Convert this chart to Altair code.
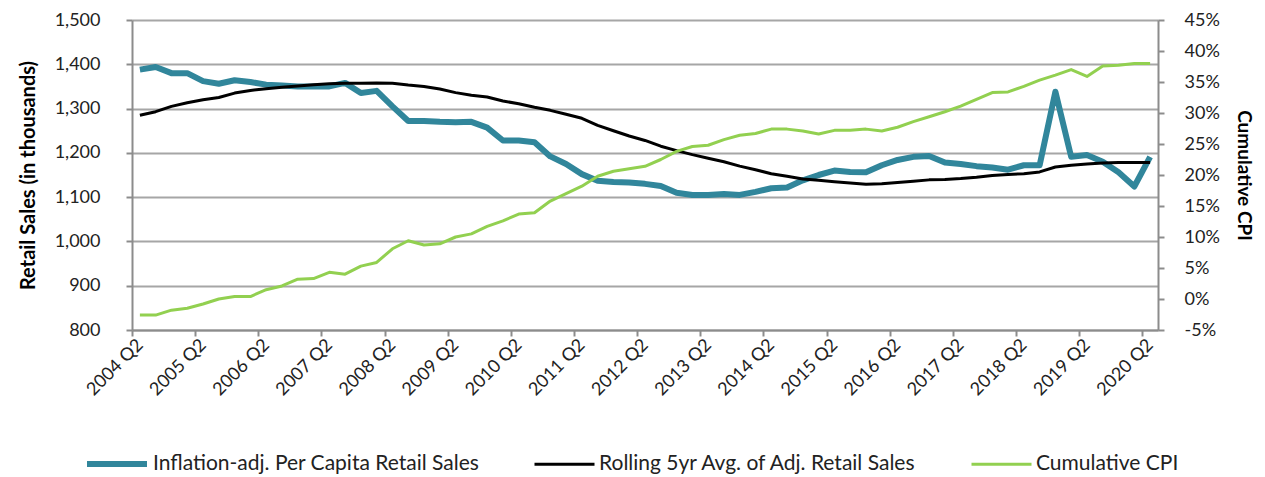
import json
import altair as alt
import pandas as pd

# ---------------- data ----------------
quarters = [f"{2004 + (i + 1) // 4} Q{(i + 1) % 4 + 1}" for i in range(65)]  # 2004 Q2 .. 2020 Q2

sales = [1388, 1394, 1380, 1380, 1362, 1356, 1364, 1360, 1354, 1352,
         1350, 1350, 1350, 1358, 1335, 1340, 1305, 1272, 1272, 1270,
         1269, 1270, 1257, 1228, 1228, 1224, 1192, 1175, 1152, 1137,
         1134, 1133, 1130, 1125, 1110, 1105, 1105, 1107, 1105, 1112,
         1120, 1122, 1138, 1150, 1160, 1157, 1156, 1172, 1184, 1191,
         1193, 1178, 1175, 1170, 1167, 1162, 1172, 1172, 1338, 1191,
         1195, 1180, 1156, 1124, 1191]

rolling = [1285, 1293, 1305, 1313, 1320, 1325, 1335, 1341, 1345, 1348,
           1351, 1354, 1356, 1357, 1357, 1358, 1357, 1353, 1350, 1344,
           1336, 1330, 1326, 1317, 1311, 1303, 1296, 1287, 1278, 1262,
           1250, 1238, 1228, 1215, 1205, 1196, 1188, 1180, 1170, 1162,
           1153, 1147, 1141, 1138, 1135, 1132, 1129, 1130, 1133, 1136,
           1139, 1140, 1142, 1145, 1149, 1151, 1153, 1157, 1168, 1172,
           1175, 1177, 1178, 1178, 1178]

cpi = [-2.6, -2.6, -1.8, -1.5, -0.8, 0.0, 0.4, 0.4, 1.5, 2.1,
       3.2, 3.3, 4.3, 4.0, 5.3, 5.9, 8.1, 9.4, 8.7, 8.9,
       10.0, 10.5, 11.7, 12.6, 13.7, 13.9, 15.8, 17.0, 18.2, 19.8,
       20.6, 21.0, 21.4, 22.5, 23.8, 24.6, 24.8, 25.7, 26.4, 26.7,
       27.4, 27.4, 27.1, 26.6, 27.2, 27.2, 27.4, 27.1, 27.7, 28.6,
       29.4, 30.2, 31.1, 32.2, 33.3, 33.4, 34.3, 35.3, 36.1, 37.0,
       35.9, 37.6, 37.7, 38.0, 38.0]

series_names = ["Inflation-adj. Per Capita Retail Sales",
                "Rolling 5yr Avg. of Adj. Retail Sales",
                "Cumulative CPI"]
series_colors = ["#31869B", "#000000", "#92D050"]
series_widths = [6, 3, 3]

tick_labels = [f"{y} Q2" for y in range(2004, 2021)]
left_ticks = [800, 900, 1000, 1100, 1200, 1300, 1400, 1500]
right_ticks = [-5, 0, 5, 10, 15, 20, 25, 30, 35, 40, 45]

# ---------------- frames ----------------
df_sales = pd.DataFrame({"idx": range(65), "quarter": quarters, "value": sales,
                         "series": series_names[0]})
df_roll = pd.DataFrame({"idx": range(65), "quarter": quarters, "value": rolling,
                        "series": series_names[1]})
df_cpi = pd.DataFrame({"idx": range(65), "quarter": quarters, "cpi": cpi,
                       "series": series_names[2]})

FONT = "Lato"
TXT = "#222222"
AX = "#8c8c8c"
GRID = "#a6a6a6"

boundaries = [-0.5 + 4 * k for k in range(17)]
label_expr = json.dumps(tick_labels) + "[round((datum.value + 0.5) / 4)]"

x_enc = alt.X(
    "idx:Q",
    scale=alt.Scale(domain=[-0.5, 64.5], nice=False, zero=False),
    axis=alt.Axis(values=boundaries, labelExpr=label_expr, labelAngle=-45,
                  labelAlign="right", labelBaseline="middle", labelOffset=8,
                  labelPadding=6, tickSize=6, tickWidth=2, tickColor=AX,
                  domainColor=AX, domainWidth=2, grid=False, title=None,
                  labelFont=FONT, labelFontSize=18, labelColor=TXT,
                  labelOverlap=False, labelFlush=False, labelBound=False),
)

left_axis = alt.Axis(values=left_ticks, labelExpr="format(datum.value, ',')",
                     tickSize=6, tickWidth=2,
                     tickColor=AX, domainColor=AX, domainWidth=2,
                     grid=True, gridColor=GRID, gridWidth=2,
                     labelPadding=26, labelFont=FONT, labelFontSize=18,
                     labelColor=TXT, title="Retail Sales (in thousands)",
                     titleFont=FONT, titleFontSize=20, titleFontWeight="bold",
                     titleColor="#000000", titlePadding=16)
y_left = alt.Y("value:Q", scale=alt.Scale(domain=[800, 1500], nice=False, zero=False),
               axis=left_axis)

y_right = alt.Y("cpi:Q", scale=alt.Scale(domain=[-5, 45], nice=False, zero=False),
                axis=alt.Axis(orient="right", values=right_ticks,
                              labelExpr="datum.value + '%'", tickSize=6, tickWidth=2,
                              tickColor=AX, domainColor=AX, domainWidth=2, grid=False,
                              labelPadding=20, labelFont=FONT, labelFontSize=18,
                              labelColor=TXT, title="Cumulative CPI",
                              titleFont=FONT, titleFontSize=19, titleFontWeight="bold",
                              titleColor="#000000", titlePadding=14))

legend = alt.Legend(orient="none", legendX=-48, legendY=411, direction="horizontal",
                    title=None, symbolType="stroke", symbolSize=3600,
                    labelFont=FONT, labelFontSize=21, labelColor=TXT, labelLimit=0,
                    columnPadding=48, labelOffset=3, symbolOffset=0)

color_enc = alt.Color("series:N", scale=alt.Scale(domain=series_names, range=series_colors),
                      legend=legend)
width_enc = alt.StrokeWidth("series:N",
                            scale=alt.Scale(type="ordinal", domain=series_names, range=series_widths),
                            legend=legend)

teal = alt.Chart(df_sales).mark_line(strokeJoin="round").encode(
    x=x_enc, y=y_left, color=color_enc, strokeWidth=width_enc)
black = alt.Chart(df_roll).mark_line(strokeJoin="round").encode(
    x=x_enc, y=y_left, color=color_enc, strokeWidth=width_enc)
green = alt.Chart(df_cpi).mark_line(strokeJoin="round").encode(
    x=x_enc, y=y_right, color=color_enc, strokeWidth=width_enc)

chart = alt.layer(alt.layer(teal, black), green).resolve_scale(y="independent").properties(
    width=1026, height=310,
    padding={"left": 124, "top": 12, "right": 99, "bottom": 147},
    autosize=alt.AutoSizeParams(type="none"),
).configure_view(stroke=None)

chart.save("out.html", embed_options={"renderer": "svg", "actions": False})
